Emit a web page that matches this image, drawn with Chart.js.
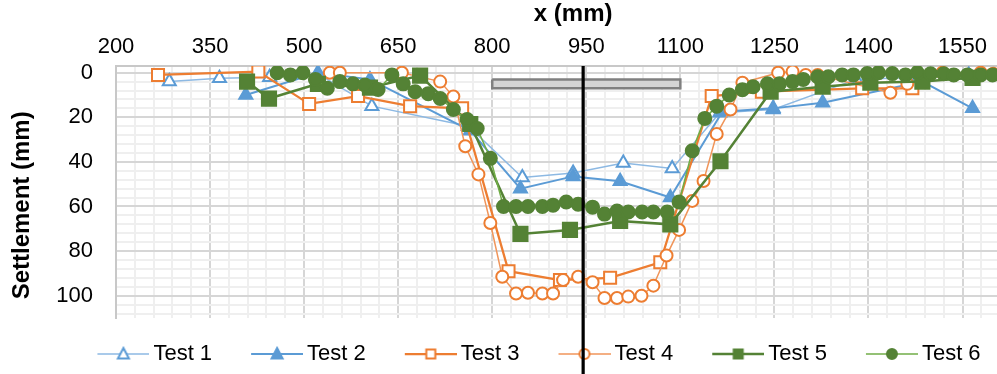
<!DOCTYPE html>
<html><head><meta charset="utf-8">
<script src="https://cdn.jsdelivr.net/npm/chart.js@4.4.1/dist/chart.umd.min.js"></script>
<style>html,body{margin:0;padding:0;background:#fff;}#wrap{width:997px;height:374px;}</style>
</head><body><div id="wrap"><canvas id="c" width="997" height="374"></canvas></div>
<script>
// ---- data (x in mm, settlement in mm) ----
const test1X = [285, 365, 445, 522, 608, 762, 848, 929, 1009, 1087, 1163, 1248, 1380, 1480, 1560];
const test1Y = [4, 2.5, 2, 0.5, 15, 24, 47, 45, 40.5, 43, 18, 16.5, 3, 2, 1];
const test2X = [407, 522, 605, 765, 845, 929, 1004, 1084, 1167, 1248, 1327, 1486, 1566];
const test2Y = [10, 0, 3, 26, 52, 46.5, 48.7, 56, 17.5, 16, 13.5, 4, 16];
const test3X = [267, 427, 508, 586, 669, 752, 826, 908, 988, 1068, 1150, 1230, 1390, 1470];
const test3Y = [1, -0.5, 14, 10.5, 15, 16, 89, 93, 92, 85, 10.5, 8.5, 7, 7];
const test4X = [541, 557, 656, 717, 738, 757, 778, 797, 816, 838, 857, 880, 897, 913, 937, 960, 979, 999, 1017, 1038, 1057, 1078, 1098, 1119, 1137, 1158, 1180, 1199, 1256, 1279, 1300, 1319, 1435, 1462, 1518, 1579, 1599];
const test4Y = [0, 0, 0, 4, 10.7, 33, 45.6, 67.4, 91.5, 99, 98.7, 99, 99, 93, 91.5, 94, 101, 101, 100.4, 100, 95.5, 82, 70.5, 57.5, 48.6, 27.5, 16.5, 4.5, 0, -0.5, 1, 1, 9, 5, 0, 0, 0.5];
const test5X = [409, 444, 522, 605, 685, 765, 845, 924, 1004, 1084, 1164, 1244, 1327, 1403, 1486, 1566];
const test5Y = [4, 11.6, 5, 6.7, 1.3, 23, 72.3, 70.5, 66.5, 68, 39.7, 8.5, 6.3, 4.5, 4, 2.3];
const test6X = [457, 478, 498, 518, 537, 557, 578, 597, 618, 640, 658, 677, 698, 717, 738, 760, 776, 797, 818, 838, 857, 880, 897, 918, 937, 960, 979, 999, 1017, 1039, 1057, 1079, 1098, 1119, 1139, 1158, 1178, 1199, 1216, 1239, 1258, 1279, 1296, 1319, 1336, 1358, 1376, 1398, 1416, 1438, 1459, 1478, 1499, 1520, 1536, 1558, 1579, 1598];
const test6Y = [0, 1, 0, 3, 7, 4, 5, 5.5, 7.5, 1, 5, 8.5, 9.4, 11.6, 16.5, 21, 25, 38.4, 60, 60, 60, 60, 59.4, 58, 59, 60.3, 63.4, 62, 62.5, 62.5, 62.5, 62.5, 58, 35, 20.5, 15, 10, 7.6, 6.3, 5, 5, 4, 3, 1.8, 1.8, 1, 1, 0.4, 0, 0.4, 1, 0, 0.5, 0.5, 1, 1, 1, 1];
const seriesNames = ['Test 1', 'Test 2', 'Test 3', 'Test 4', 'Test 5', 'Test 6'];
// footing (grey box) and centre line
const footingX = [800, 1100, 1100, 800, 800];
const footingY = [3, 3, 7, 7, 3];
const centreLineX = [945, 945];
const centreLineY = [-3, 150];
// axis tick labels
const xTickLabels = [200, 350, 500, 650, 800, 950, 1100, 1250, 1400, 1550];
const yTickLabels = [0, 20, 40, 60, 80, 100];
const xMinorStep = 30, yMinorStep = 4;

const FONT = "'Liberation Sans', Arial, sans-serif";
const zip = (xs, ys) => xs.map((x, i) => ({x: x, y: ys[i]}));
const xGrid = []; for (let v = 200; v <= 1600; v += xMinorStep) xGrid.push(v);
const yGrid = []; for (let v = 0; v <= 108; v += yMinorStep) yGrid.push(v);

const BLUE = '#5B9BD5', ORANGE = '#ED7D31', GREEN = '#548235';
const styles = [
  {line: '#8DB9E3', lw: 1.5, shape: 'triangle', r: 7.5, fill: '#fff', stroke: BLUE},
  {line: BLUE, lw: 2, shape: 'triangle', r: 7.5, fill: BLUE, stroke: BLUE},
  {line: ORANGE, lw: 2.25, shape: 'rect', r: 8.5, fill: '#fff', stroke: ORANGE},
  {line: '#F0955A', lw: 1.5, shape: 'circle', r: 6, fill: '#fff', stroke: ORANGE},
  {line: GREEN, lw: 2.5, shape: 'rect', r: 10, fill: GREEN, stroke: GREEN},
  {line: '#70AD47', lw: 1.5, shape: 'circle', r: 6.5, fill: GREEN, stroke: GREEN}
];
const xs = [test1X, test2X, test3X, test4X, test5X, test6X];
const ys = [test1Y, test2Y, test3Y, test4Y, test5Y, test6Y];

const BOX_W = 60, ICON_W = 74;
function makeIcon(s) {
  const c = document.createElement('canvas'); c.width = ICON_W; c.height = 16;
  const g = c.getContext('2d');
  const cx = 48;
  g.strokeStyle = s.line; g.lineWidth = s.lw; g.beginPath(); g.moveTo(22, 8); g.lineTo(74, 8); g.stroke();
  g.fillStyle = s.fill; g.strokeStyle = s.stroke; g.lineWidth = 2;
  g.beginPath();
  if (s.shape === 'triangle') { g.moveTo(cx, 2); g.lineTo(cx + 5.5, 12.5); g.lineTo(cx - 5.5, 12.5); g.closePath(); }
  else if (s.shape === 'rect') { g.rect(cx - 4.5, 3.5, 9, 9); }
  else { g.arc(cx, 8, 5, 0, Math.PI * 2); }
  g.fill(); g.stroke();
  return c;
}
const icons = styles.map(makeIcon);

const datasets = seriesNames.map((name, i) => ({
  label: name, data: zip(xs[i], ys[i]), showLine: true,
  borderColor: styles[i].line, borderWidth: styles[i].lw,
  pointStyle: styles[i].shape, pointRadius: styles[i].r,
  pointBackgroundColor: styles[i].fill, pointBorderColor: styles[i].stroke, pointBorderWidth: 2,
  tension: 0, order: 5 - i
}));
datasets.push({label: 'footing', data: zip(footingX, footingY), showLine: true, fill: 'shape',
  backgroundColor: '#d4d4d4', borderColor: '#808080', borderWidth: 2.5, pointRadius: 0, order: 10});
datasets.push({label: 'centre', data: zip(centreLineX, centreLineY), showLine: true, clip: false,
  borderColor: '#000', borderWidth: 3.2, pointRadius: 0, order: -1});

const isMajorX = v => xTickLabels.includes(v);
const isMajorY = v => yTickLabels.includes(v);

// layout tweaks: plot area reaches the right edge, legend nudged like the original
const layoutTweak = {
  id: 'layoutTweak',
  afterLayout(chart) {
    const W = chart.width;
    const x = chart.scales.x;
    x.right = W; x.width = x.right - x.left; x.configure();
    chart.chartArea.right = W; chart.chartArea.width = W - chart.chartArea.left;
    const y = chart.scales.y;
    if (y._gridLineItems) y._gridLineItems = null;
    const l = chart.legend; if (!l) return;
    l.top += 1; l.bottom += 1; l.left += 33; l.right += 33;
  }
};

new Chart(document.getElementById('c'), {
  type: 'scatter',
  data: {datasets: datasets},
  plugins: [layoutTweak],
  options: {
    responsive: false, animation: false, events: [],
    layout: {padding: {left: 0, right: 0, top: 0, bottom: 0}},
    plugins: {
      tooltip: {enabled: false},
      legend: {
        position: 'bottom',
        labels: {
          usePointStyle: true, pointStyleWidth: BOX_W, padding: 24, color: '#000',
          font: {family: FONT, size: 22},
          generateLabels: chart => Chart.defaults.plugins.legend.labels.generateLabels(chart)
            .filter(it => it.datasetIndex < 6)
            .sort((a, b) => a.datasetIndex - b.datasetIndex)
            .map(it => Object.assign({}, it, {pointStyle: icons[it.datasetIndex]}))
        }
      }
    },
    scales: {
      x: {
        type: 'linear', position: 'top', min: 200, max: 1605,
        afterBuildTicks: s => { s.ticks = xGrid.map(v => ({value: v})); },
        afterFit: s => { s.height = 66; },
        ticks: {autoSkip: false, maxRotation: 0, padding: 6, color: '#000', font: {family: FONT, size: 22},
          callback: v => isMajorX(v) ? String(v) : ''},
        grid: {drawTicks: false, lineWidth: 2,
          color: c => (c.tick && isMajorX(c.tick.value)) ? '#d6d6d6' : '#efefef'},
        border: {display: true, color: '#c8c8c8', width: 2},
        title: {display: true, text: '     x (mm)', color: '#000', font: {family: FONT, size: 24, weight: 'bold'}, padding: {top: 0, bottom: 0}}
      },
      y: {
        type: 'linear', reverse: true, min: -3, max: 110,
        afterBuildTicks: s => { s.ticks = yGrid.map(v => ({value: v})); },
        afterFit: s => { s.width = 116; },
        ticks: {autoSkip: false, padding: 23, color: '#000', font: {family: FONT, size: 22},
          callback: v => isMajorY(v) ? String(v) : ''},
        grid: {drawTicks: false, lineWidth: 2,
          color: c => (c.tick && isMajorY(c.tick.value)) ? '#d6d6d6' : '#efefef'},
        border: {display: true, color: '#c8c8c8', width: 2},
        title: {display: true, text: 'Settlement (mm)    ', color: '#000', font: {family: FONT, size: 24, weight: 'bold'}, padding: {top: 8, bottom: 0}}
      }
    }
  }
});
</script></body></html>
